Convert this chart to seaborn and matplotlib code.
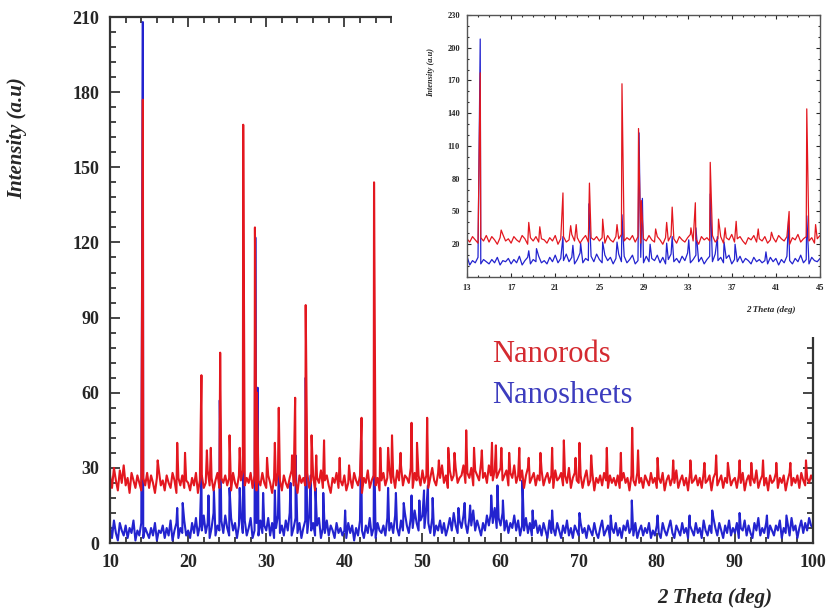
import numpy as np
import pandas as pd
import matplotlib
matplotlib.use("Agg")
import matplotlib.pyplot as plt
from matplotlib.patches import Rectangle
from matplotlib.ticker import MultipleLocator
import seaborn as sns

# 2-theta grid of the scan (0.25 deg step, 10 -> 100)
scan_start, scan_stop, scan_step = 10.0, 100.0, 0.25

# background counts, one row per 5 degrees
nanorods_base = [
    27, 22, 30, 25, 21, 29, 24, 31, 23, 26, 20, 28, 25, 22, 27, 24, 21, 26, 23, 28,
    22, 27, 24, 20, 26, 29, 23, 25, 21, 27, 24, 22, 28, 25, 20, 26, 23, 27, 22, 25,
    24, 21, 26, 23, 28, 20, 25, 27, 22, 24, 29, 23, 26, 21, 25, 28, 22, 26, 24, 27,
    23, 26, 21, 28, 24, 22, 27, 25, 29, 23, 26, 24, 28, 22, 27, 21, 25, 23, 28, 24,
    22, 27, 24, 20, 26, 23, 28, 25, 21, 27, 24, 22, 26, 29, 23, 25, 20, 27, 24, 26,
    23, 28, 22, 25, 27, 21, 26, 24, 29, 22, 25, 27, 23, 20, 26, 24, 28, 22, 25, 23,
    27, 21, 24, 26, 22, 28, 25, 23, 27, 20, 26, 24, 29, 22, 25, 27, 23, 26, 21, 25,
    28, 23, 26, 30, 24, 27, 22, 29, 25, 31, 23, 27, 26, 24, 30, 22, 28, 25, 27, 23,
    29, 24, 27, 22, 26, 30, 25, 23, 28, 26, 31, 24, 27, 22, 29, 25, 27, 30, 24, 26,
    27, 31, 24, 28, 26, 30, 23, 29, 27, 25, 32, 26, 28, 24, 31, 27, 25, 29, 26, 28,
    30, 25, 27, 29, 23, 28, 26, 31, 24, 27, 25, 29, 22, 27, 30, 24, 26, 28, 23, 27,
    25, 29, 23, 26, 28, 24, 27, 22, 29, 25, 26, 28, 23, 27, 24, 30, 22, 26, 28, 25,
    24, 27, 22, 26, 29, 23, 25, 28, 21, 26, 24, 27, 23, 28, 25, 22, 27, 24, 26, 23,
    27, 22, 25, 28, 24, 26, 21, 27, 25, 23, 28, 24, 26, 22, 27, 25, 23, 28, 24, 26,
    22, 26, 24, 28, 21, 25, 27, 23, 26, 24, 29, 22, 25, 27, 23, 26, 21, 28, 24, 25,
    27, 23, 26, 22, 28, 24, 25, 27, 21, 26, 28, 23, 25, 27, 22, 26, 24, 28, 23, 25,
    26, 22, 27, 24, 28, 21, 25, 27, 23, 26, 24, 29, 22, 25, 27, 23, 26, 21, 27, 24,
    25, 28, 22, 26, 24, 27, 21, 25, 28, 23, 26, 24, 27, 22, 28, 25, 23, 26, 24, 27,
    25,
]

nanosheets_base = [
    7, 2, 9, 4, 1, 8, 5, 3, 7, 2, 6, 4, 9, 1, 5, 3, 8, 2, 6, 4,
    2, 6, 3, 8, 1, 5, 4, 7, 2, 6, 3, 9, 1, 5, 8, 2, 6, 4, 9, 3,
    5, 2, 8, 4, 10, 3, 7, 5, 11, 4, 8, 2, 6, 12, 3, 7, 5, 9, 4, 11,
    6, 3, 10, 5, 8, 2, 7, 11, 4, 9, 3, 6, 10, 2, 5, 8, 3, 9, 4, 7,
    5, 10, 3, 8, 2, 6, 11, 4, 7, 3, 9, 5, 12, 3, 6, 10, 4, 8, 2, 6,
    9, 4, 11, 5, 8, 3, 7, 10, 2, 6, 4, 9, 3, 7, 5, 2, 8, 4, 6, 3,
    5, 2, 8, 4, 7, 1, 6, 3, 9, 5, 2, 7, 4, 10, 3, 6, 2, 8, 5, 4,
    7, 3, 10, 5, 8, 4, 11, 6, 3, 9, 5, 12, 7, 4, 10, 6, 13, 8, 5, 9,
    11, 6, 14, 8, 4, 10, 3, 7, 5, 9, 4, 8, 3, 6, 10, 5, 12, 7, 4, 9,
    6, 11, 8, 4, 10, 7, 13, 5, 9, 6, 3, 8, 5, 11, 7, 12, 8, 14, 6, 10,
    7, 12, 5, 9, 4, 8, 6, 11, 5, 9, 3, 7, 5, 10, 4, 8, 3, 6, 9, 4,
    7, 3, 8, 5, 2, 9, 4, 6, 3, 8, 5, 2, 7, 4, 9, 3, 6, 2, 7, 5,
    3, 8, 4, 6, 2, 7, 5, 3, 8, 4, 2, 6, 9, 3, 5, 7, 2, 6, 4, 8,
    3, 6, 2, 7, 5, 9, 4, 6, 3, 8, 2, 5, 7, 3, 6, 4, 8, 2, 5, 3,
    7, 4, 2, 8, 5, 3, 6, 9, 4, 2, 7, 5, 3, 8, 4, 6, 2, 7, 5, 3,
    8, 4, 6, 2, 9, 5, 3, 7, 4, 10, 6, 3, 8, 5, 2, 7, 4, 9, 3, 6,
    4, 8, 2, 6, 5, 9, 3, 7, 4, 2, 8, 5, 10, 3, 6, 4, 8, 2, 7, 5,
    3, 7, 5, 9, 2, 6, 4, 8, 3, 10, 5, 7, 2, 6, 9, 4, 8, 5, 10, 7,
    6,
]

# reflections: position (deg) and peak intensity
nanorods_peak_pos = [
    14.2, 16.1, 18.6, 19.6, 21.7, 22.4, 22.9, 24.1, 25.3, 26.6, 27.05, 28.55,
    28.8, 30.1, 31.1, 31.6, 33.3, 33.7, 35.05, 35.8, 36.4, 37.4, 39.4, 40.6,
    42.2, 43.8, 44.6, 45.6, 46.1, 47.2, 48.6, 49.3, 50.6, 52.1, 53.3, 54.1,
    55.6, 56.6, 57.6, 58.9, 59.4, 60.1, 61.1, 62.4, 63.6, 65.1, 66.6, 68.1,
    69.6, 70.1, 71.6, 73.6, 75.4, 76.85, 77.6, 80.1, 82.1, 84.3, 86.1, 87.6,
    89.1, 90.6, 92.1, 93.6, 95.3, 97.1, 99.1,
]
nanorods_peak_int = [
    177, 33, 40, 36, 67, 37, 38, 76, 43, 38, 167, 126,
    60, 34, 40, 54, 35, 58, 95, 43, 35, 41, 34, 31,
    50, 144, 38, 38, 43, 36, 48, 40, 50, 33, 38, 36,
    45, 38, 37, 40, 39, 38, 36, 38, 34, 36, 38, 41,
    34, 40, 35, 38, 36, 46, 37, 34, 33, 33, 32, 35,
    32, 33, 32, 33, 32, 32, 33,
]

nanosheets_peak_pos = [
    14.2, 18.6, 19.3, 21.7, 22.6, 23.3, 24.05, 25.3, 26.6, 27.05, 28.6, 28.9,
    29.6, 31.1, 31.6, 33.1, 33.75, 35.05, 35.7, 36.3, 37.3, 40.1, 42.15, 43.8,
    45.6, 46.6, 47.6, 48.6, 49.6, 50.2, 50.7, 51.3, 54.6, 55.4, 56.1, 58.8,
    59.6, 60.3, 62.8, 64.1, 66.6, 70.1, 74.1, 76.8, 80.1, 84.2, 87.1, 90.6,
    94.1, 96.6,
]
nanosheets_peak_int = [
    208, 14, 16, 27, 19, 21, 57, 22, 22, 47, 122, 62,
    20, 21, 27, 24, 35, 66, 27, 22, 20, 13, 41, 46,
    22, 20, 16, 19, 17, 21, 23, 18, 14, 16, 15, 19,
    23, 17, 25, 13, 13, 12, 11, 17, 11, 11, 13, 12,
    11, 11,
]

RED = "#e3171f"
BLUE = "#2323cf"


def build_pattern(base, peak_pos, peak_int, label):
    grid = np.arange(scan_start, scan_stop + scan_step / 2, scan_step)
    df = pd.concat(
        [
            pd.DataFrame({"two_theta": grid, "intensity": base}),
            pd.DataFrame({"two_theta": peak_pos, "intensity": peak_int}),
        ]
    )
    df = df.sort_values("two_theta").reset_index(drop=True)
    df["sample"] = label
    return df


rods = build_pattern(nanorods_base, nanorods_peak_pos, nanorods_peak_int, "Nanorods")
sheets = build_pattern(nanosheets_base, nanosheets_peak_pos, nanosheets_peak_int, "Nanosheets")

sns.set_style("ticks")
plt.rcParams["font.family"] = ["Liberation Serif", "DejaVu Serif"]
plt.rcParams["axes.edgecolor"] = "#333333"

fig = plt.figure(figsize=(8.33, 6.12), dpi=100)
ax = fig.add_axes([0.1321, 0.1127, 0.8439, 0.8595])


def draw(axis, lw):
    sns.lineplot(data=sheets, x="two_theta", y="intensity", color=BLUE, lw=lw,
                 estimator=None, sort=False, ax=axis, legend=False)
    sns.lineplot(data=rods, x="two_theta", y="intensity", color=RED, lw=lw,
                 estimator=None, sort=False, ax=axis, legend=False)


draw(ax, 1.5)
ax.set_xlim(10, 100)
ax.set_ylim(0, 210)
ax.set_xticks(range(10, 101, 10))
ax.set_yticks(range(0, 211, 30))
ax.xaxis.set_minor_locator(MultipleLocator(2))
ax.yaxis.set_minor_locator(MultipleLocator(6))
ax.tick_params(which="both", direction="in", top=True, right=True, width=1.2)
ax.tick_params(which="major", length=7, labelsize=13, pad=8)
ax.tick_params(which="minor", length=4)
for lab in ax.get_xticklabels() + ax.get_yticklabels():
    lab.set_fontweight("bold")
for sp in ax.spines.values():
    sp.set_linewidth(1.6)

ax.set_xlabel("2 Theta (deg)", fontsize=15, fontweight="bold", style="italic", ha="right")
ax.xaxis.set_label_coords(0.942, -0.085)
ax.set_ylabel("Intensity (a.u)", fontsize=15, fontweight="bold", style="italic")
ax.yaxis.set_label_coords(-0.118, 0.77)

ax.text(0.543, 0.344, "Nanorods", color="#d42a30", fontsize=22, transform=ax.transAxes)
ax.text(0.543, 0.266, "Nanosheets", color="#3c3cbe", fontsize=22, transform=ax.transAxes)

# white patch that hides the top-right of the main frame behind the inset
fig.add_artist(Rectangle((0.4706, 0.4493), 0.5294, 0.5507, transform=fig.transFigure,
                         facecolor="white", edgecolor="none", zorder=2))

ins = fig.add_axes([0.5606, 0.5474, 0.4238, 0.4281], zorder=3)
draw(ins, 0.9)
ins.set_xlim(13, 45)
ins.set_ylim(-10, 230)
ins.set_xticks(range(13, 46, 4))
ins.set_yticks(range(20, 231, 30))
ins.xaxis.set_minor_locator(MultipleLocator(1))
ins.yaxis.set_minor_locator(MultipleLocator(10))
ins.tick_params(which="both", direction="in", top=True, right=True, width=0.8)
ins.tick_params(which="major", length=3, labelsize=6, pad=5)
ins.tick_params(which="minor", length=1.5)
for lab in ins.get_xticklabels() + ins.get_yticklabels():
    lab.set_fontweight("bold")
for sp in ins.spines.values():
    sp.set_linewidth(1.0)
    sp.set_color("#555555")
ins.set_xlabel("2 Theta (deg)", fontsize=6.5, fontweight="bold", style="italic", ha="right")
ins.xaxis.set_label_coords(0.93, -0.11)
ins.set_ylabel("Intensity (a.u)", fontsize=6, fontweight="bold", style="italic")
ins.yaxis.set_label_coords(-0.09, 0.78)

fig.savefig("out.png", dpi=100)
